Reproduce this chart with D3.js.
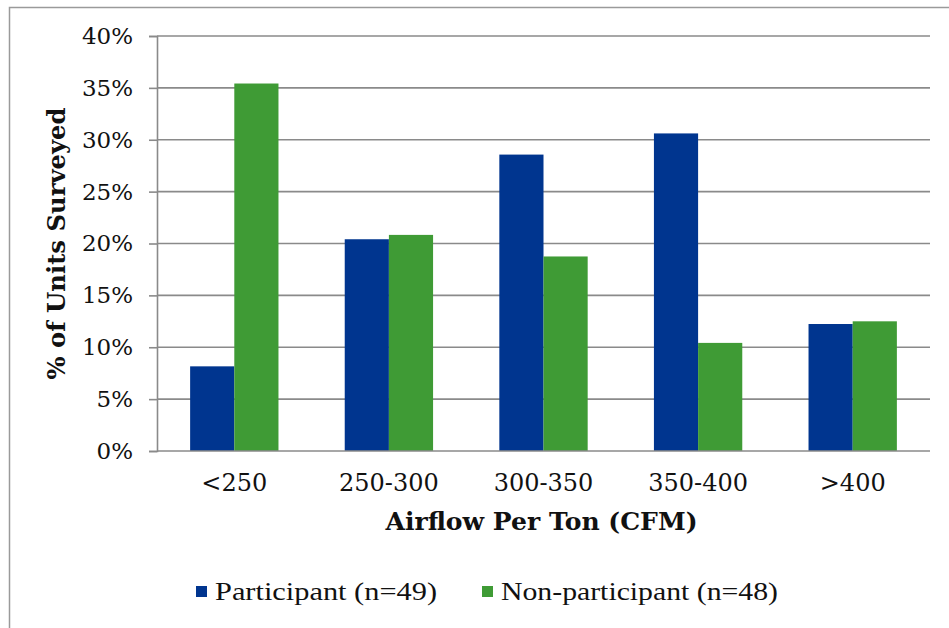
<!DOCTYPE html>
<html>
<head>
<meta charset="utf-8">
<script src="https://cdn.jsdelivr.net/npm/d3@7/dist/d3.min.js"></script>
<style>
  html, body { margin: 0; padding: 0; background: #fff; }
  svg { display: block; }
</style>
</head>
<body>
<svg id="chart" width="949" height="628"></svg>
<script>
// Airflow per ton distribution, participants vs non-participants
const categories = ["<250", "250-300", "300-350", "350-400", ">400"];
const participant = [8.16, 20.41, 28.57, 30.61, 12.24];
const nonParticipant = [35.42, 20.83, 18.75, 10.42, 12.5];
const seriesNames = ["Participant (n=49)", "Non-participant (n=48)"];
const seriesColors = ["#00358f", "#3f9b35"];
const yTicks = [0, 5, 10, 15, 20, 25, 30, 35, 40];

const svg = d3.select("#chart");
const plotLeft = 157, plotRight = 930, plotTop = 36, plotBottom = 451;
const serif = "'DejaVu Serif', serif";

// outer frame
svg.append("rect")
  .attr("x", 9.5).attr("y", 7.5)
  .attr("width", 980).attr("height", 700)
  .attr("fill", "none").attr("stroke", "#9a9a9a").attr("stroke-width", 1.5);

const y = d3.scaleLinear().domain([0, 40]).range([plotBottom, plotTop]);
const x0 = d3.scaleBand().domain(categories).range([plotLeft, plotRight])
  .paddingInner(1.5 / 3.5).paddingOuter(0.75 / 3.5);
const x1 = d3.scaleBand().domain([0, 1]).range([0, x0.bandwidth()]);

// gridlines
svg.append("g").selectAll("line").data(yTicks.filter(d => d > 0)).join("line")
  .attr("x1", plotLeft).attr("x2", plotRight)
  .attr("y1", d => y(d)).attr("y2", d => y(d))
  .attr("stroke", "#8a8a8a").attr("stroke-width", 1.6);

// y axis
const yAxis = d3.axisLeft(y).tickValues(yTicks).tickSize(8).tickPadding(16)
  .tickFormat(d => d + "%");
const gy = svg.append("g").attr("transform", `translate(${plotLeft},0)`).call(yAxis);
gy.select(".domain").attr("stroke", "#8a8a8a").attr("stroke-width", 1.6);
gy.selectAll(".tick line").attr("stroke", "#8a8a8a").attr("stroke-width", 1.6);
gy.selectAll(".tick text")
  .attr("font-family", serif).attr("font-size", 23)
  .attr("fill", "#111");

// bars
const rows = categories.map((c, i) => ({ cat: c, vals: [participant[i], nonParticipant[i]] }));
const groups = svg.append("g").selectAll("g").data(rows).join("g")
  .attr("transform", d => `translate(${x0(d.cat)},0)`);
groups.selectAll("rect").data(d => d.vals.map((v, k) => ({ v, k }))).join("rect")
  .attr("x", d => x1(d.k)).attr("width", x1.bandwidth())
  .attr("y", d => y(d.v)).attr("height", d => y(0) - y(d.v))
  .attr("fill", d => seriesColors[d.k]);

// x axis
const xAxis = d3.axisBottom(x0).tickSize(0).tickPadding(23);
const gx = svg.append("g").attr("transform", `translate(0,${plotBottom})`).call(xAxis);
gx.select(".domain").attr("stroke", "#8a8a8a").attr("stroke-width", 1.6)
  .attr("d", `M${plotLeft},0H${plotRight}`);
gx.selectAll(".tick text")
  .attr("font-family", serif).attr("font-size", 24)
  .attr("fill", "#111");

// axis titles
svg.append("text")
  .attr("x", (plotLeft + plotRight) / 2 - 2).attr("y", 530)
  .attr("text-anchor", "middle")
  .attr("font-family", serif).attr("font-weight", "bold")
  .attr("font-size", 24).attr("fill", "#111")
  .attr("textLength", 312).attr("lengthAdjust", "spacingAndGlyphs")
  .text("Airflow Per Ton (CFM)");

svg.append("text")
  .attr("transform", `translate(65,${(plotTop + plotBottom) / 2}) rotate(-90)`)
  .attr("text-anchor", "middle")
  .attr("font-family", serif).attr("font-weight", "bold")
  .attr("font-size", 24).attr("fill", "#111")
  .attr("textLength", 272).attr("lengthAdjust", "spacingAndGlyphs")
  .text("% of Units Surveyed");

// legend
const legendX = [196, 482];
const lg = svg.append("g").selectAll("g").data(seriesNames).join("g")
  .attr("transform", (d, i) => `translate(${legendX[i]},586)`);
lg.append("rect").attr("width", 11).attr("height", 11)
  .attr("fill", (d, i) => seriesColors[i]);
lg.append("text").attr("x", 19).attr("y", 14)
  .attr("font-family", "'Liberation Serif', serif").attr("font-size", 26)
  .attr("fill", "#111")
  .attr("textLength", (d, i) => [222, 277][i])
  .attr("lengthAdjust", "spacingAndGlyphs")
  .text(d => d);
</script>
</body>
</html>
